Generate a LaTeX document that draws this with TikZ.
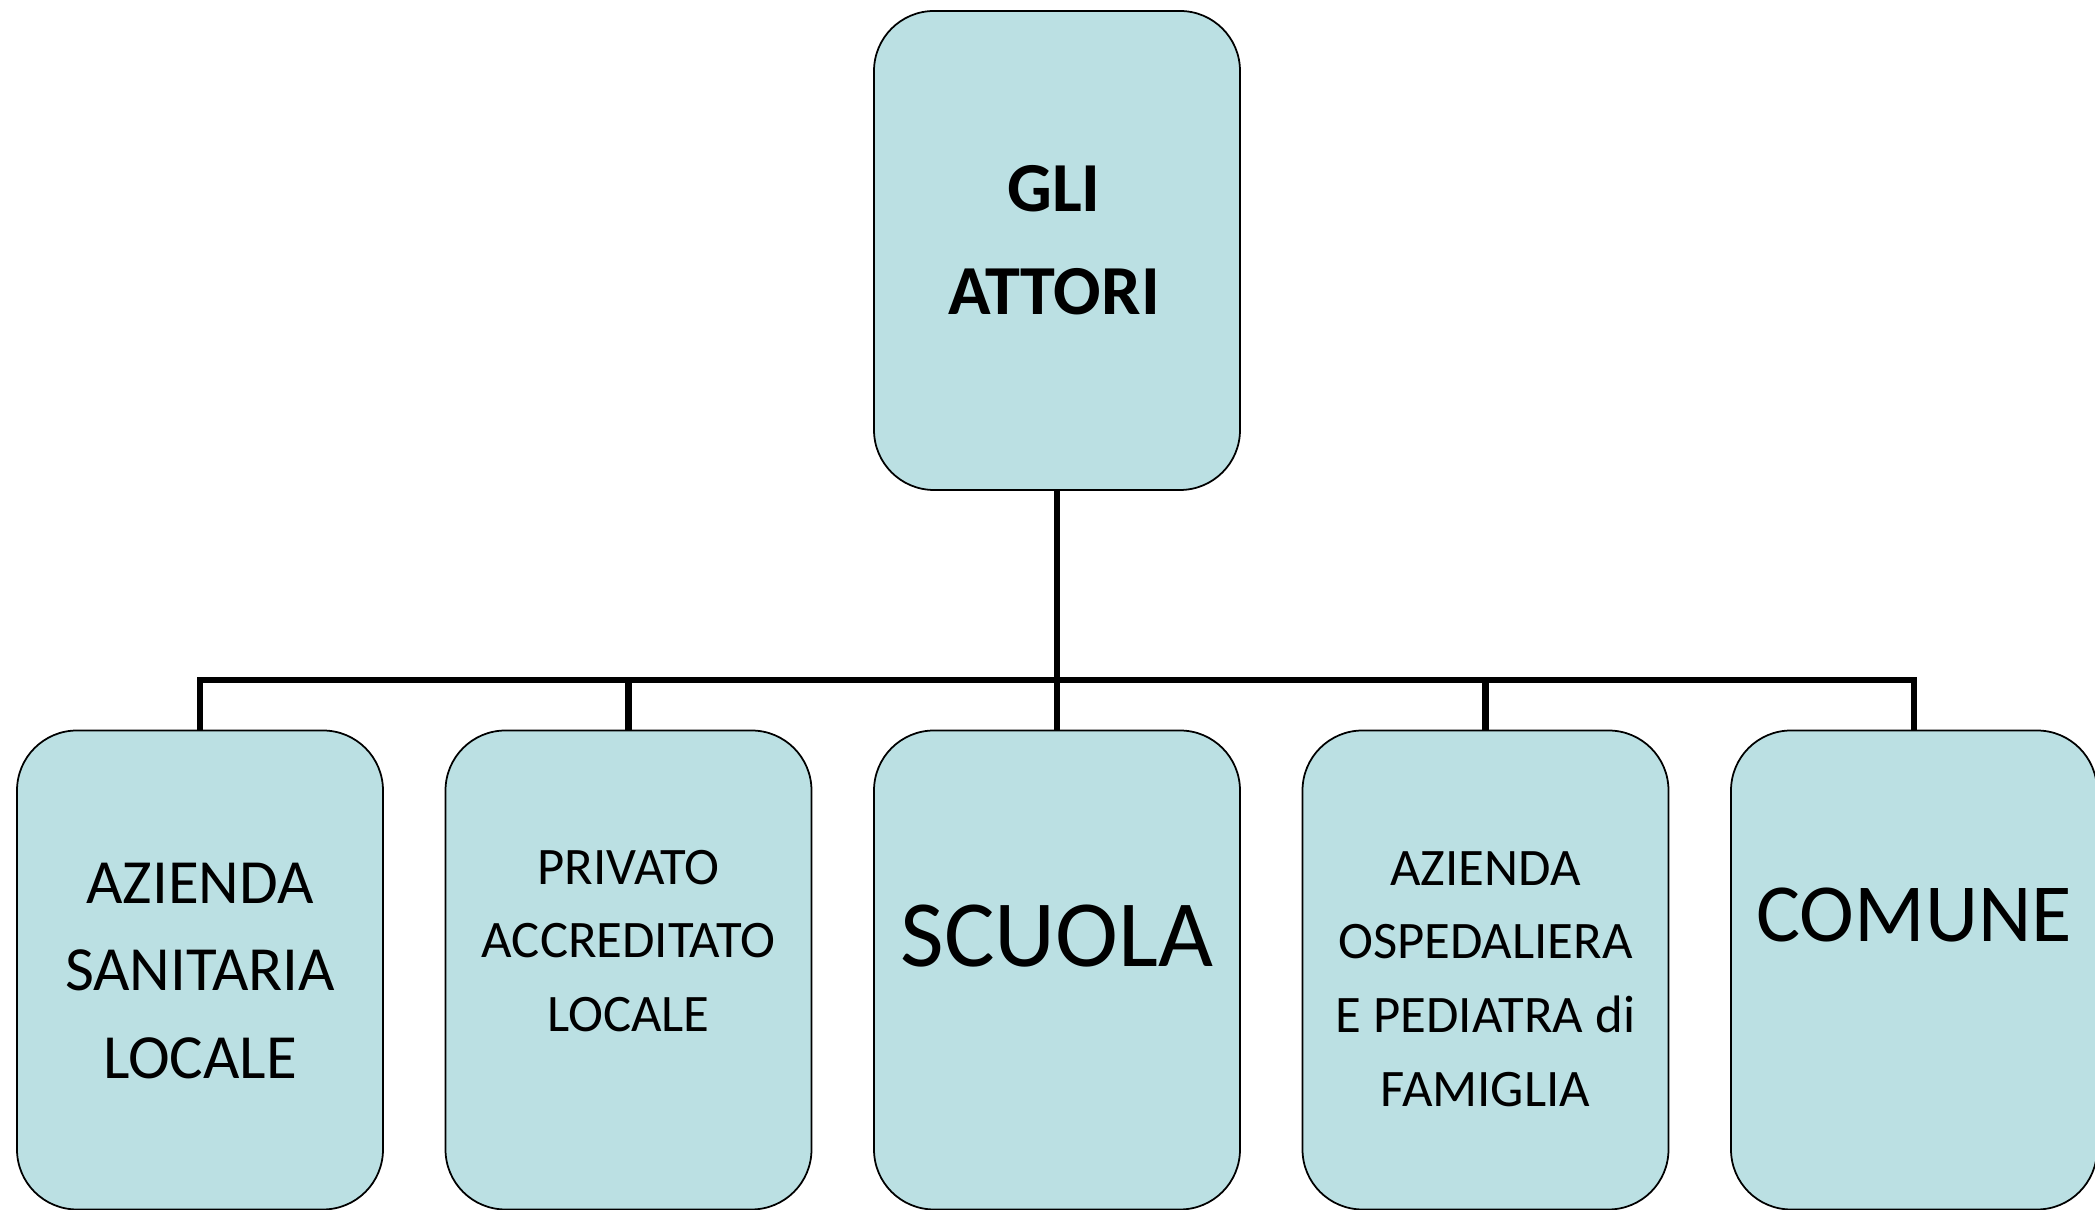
\documentclass[tikz,border=0pt]{standalone}
\usepackage{fontspec}
\setmainfont{Carlito}
\usetikzlibrary{calc}
\definecolor{actorblue}{RGB}{187,224,227}

\begin{document}
\begin{tikzpicture}[
    actor/.style={rectangle, draw, line width=0.5pt, fill=actorblue, rounded corners=0.6cm, minimum width=3.66cm, minimum height=4.79cm, inner sep=0pt},
    txt/.style={align=center, inner sep=0pt, outer sep=0pt},
    link/.style={draw, line width=1.85pt}]
    \useasboundingbox (0,0) rectangle (20.95,12.10);
    % Place nodes
    \node [actor] (TOP) at (10.57,9.595) {};
    \node [txt, font=\fontsize{20}{29.3}\selectfont\bfseries] (TOPT) at (10.54,9.70) {GLI\\ATTORI};
    \node [actor] (ASL) at (2.00,2.40) {};
    \node [txt, font=\fontsize{17.9}{25}\selectfont] (ASLT) at (2.00,2.39) {AZIENDA\\SANITARIA\\LOCALE};
    \node [actor] (PAL) at (6.285,2.40) {};
    \node [txt, font=\fontsize{15}{21}\selectfont] (PALT) at (6.285,2.69) {PRIVATO\\ACCREDITATO\\LOCALE};
    \node [actor] (SC) at (10.57,2.40) {};
    \node [txt, font=\fontsize{27}{32}\selectfont] (SCT) at (10.57,2.74) {SCUOLA};
    \node [actor] (AOP) at (14.855,2.40) {};
    \node [txt, font=\fontsize{15}{21}\selectfont] (AOPT) at (14.855,2.31) {AZIENDA\\OSPEDALIERA\\E PEDIATRA di\\FAMIGLIA};
    \node [actor] (COM) at (19.14,2.40) {};
    \node [txt, font=\fontsize{23.5}{28}\selectfont] (COMT) at (19.14,2.95) {COMUNE};
    \coordinate (BUS) at (10.57,5.30);
    % Connectors
    \path[link] (TOP.south) -- (SC.north);
    \path[link] (ASL.north) |- (BUS) -| (COM.north);
    \path[link] (PAL.north) -- (PAL.north |- BUS);
    \path[link] (AOP.north) -- (AOP.north |- BUS);
\end{tikzpicture}
\end{document}
